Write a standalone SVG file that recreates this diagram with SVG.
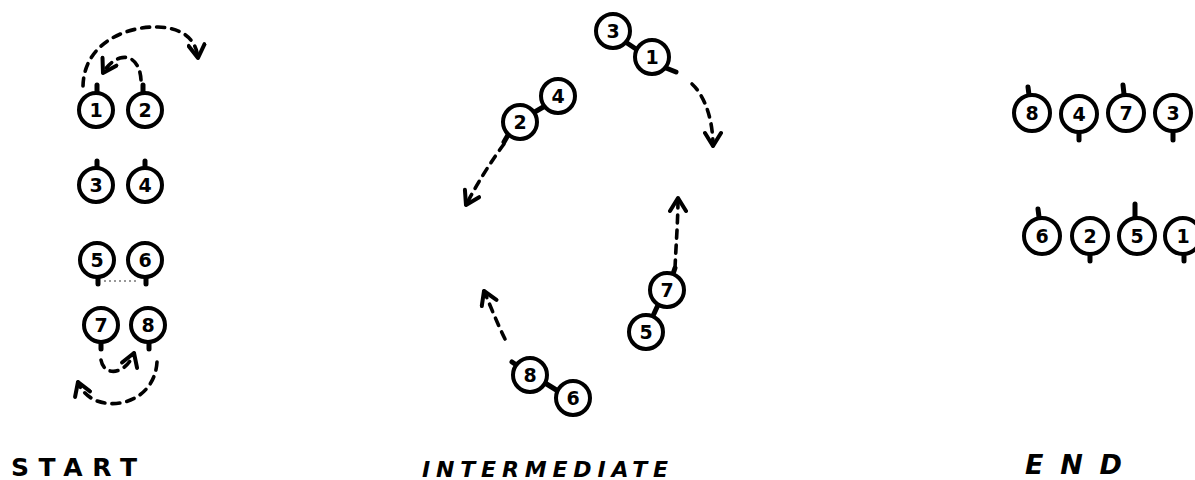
<svg xmlns="http://www.w3.org/2000/svg" width="1195" height="480" viewBox="0 0 1195 480">
<style>
.c{fill:#fff;stroke:#000;stroke-width:4}
.d{font-family:"DejaVu Sans",sans-serif;font-weight:bold;font-size:19px;text-anchor:middle;fill:#000}
.n{stroke:#000;stroke-width:5;stroke-linecap:round;fill:none}
.dash{fill:none;stroke:#000;stroke-width:3.6;stroke-dasharray:8 7;stroke-linecap:round;marker-end:url(#ah)}
.lbl{font-family:"DejaVu Sans",sans-serif;font-weight:bold;fill:#000}
</style>
<defs>
<marker id="ah" viewBox="0 0 20 20" refX="16" refY="10" markerWidth="20" markerHeight="20" markerUnits="userSpaceOnUse" orient="auto">
<path d="M3,2 L16,10 L3,18" fill="none" stroke="#000" stroke-width="4" stroke-linecap="round" stroke-linejoin="round"/>
</marker>
</defs>
<rect width="1195" height="480" fill="#fff"/>

<g id="connectors">
<path class="dash" d="M83,86 C84,42 128,26 158,27 C184,28 196,40 198,58"/>
<path class="dash" d="M141,80 C140,62 130,55 120,58 C112,61 107,66 103,73"/>
<path class="dash" d="M101,360 C104,377 126,375 134,353"/>
<path class="dash" d="M157,362 C155,396 122,410 97,401 C87,397 81,390 78,382"/>
<path class="dash" d="M504,144 C492,160 478,182 466,205"/>
<path class="dash" d="M692,84 C705,96 713,120 713,146"/>
<path class="dash" d="M675,268 C676,245 678,220 678,198"/>
<path class="dash" d="M505,339 C498,325 490,305 484,291"/>
<path d="M104,281 L138,281" stroke="#777" stroke-width="1.3" stroke-dasharray="2 3" fill="none"/>
</g>

<g id="start-1"><path class="n" d="M97,85 L97,91"/><circle class="c" cx="96" cy="110" r="17"/><text class="d" x="96" y="117">1</text></g>
<g id="start-2"><path class="n" d="M143,85 L143,91"/><circle class="c" cx="145" cy="110" r="17"/><text class="d" x="145" y="117">2</text></g>
<g id="start-3"><path class="n" d="M97,161 L97,167"/><circle class="c" cx="96" cy="185" r="17"/><text class="d" x="96" y="192">3</text></g>
<g id="start-4"><path class="n" d="M145,161 L145,167"/><circle class="c" cx="145" cy="185" r="17"/><text class="d" x="145" y="192">4</text></g>
<g id="start-5"><path class="n" d="M98,278 L98,284"/><circle class="c" cx="97" cy="260" r="17"/><text class="d" x="97" y="267">5</text></g>
<g id="start-6"><path class="n" d="M146,278 L146,284"/><circle class="c" cx="145" cy="260" r="17"/><text class="d" x="145" y="267">6</text></g>
<g id="start-7"><path class="n" d="M101,343 L101,349"/><circle class="c" cx="101" cy="325" r="17"/><text class="d" x="101" y="332">7</text></g>
<g id="start-8"><path class="n" d="M149,343 L149,349"/><circle class="c" cx="148" cy="325" r="17"/><text class="d" x="148" y="332">8</text></g>

<g id="mid-3-1">
<path class="n" d="M627,43 L639,51"/>
<path class="n" d="M666,68 L676,72"/>
<circle class="c" cx="613" cy="31" r="17"/><text class="d" x="613" y="38">3</text>
<circle class="c" cx="652" cy="57" r="17"/><text class="d" x="652" y="64">1</text>
</g>
<g id="mid-2-4">
<path class="n" d="M533,113 L545,106"/>
<path class="n" d="M508,135 L504,142"/>
<circle class="c" cx="520" cy="122" r="17"/><text class="d" x="520" y="129">2</text>
<circle class="c" cx="558" cy="96" r="17"/><text class="d" x="558" y="103">4</text>
</g>
<g id="mid-7-5">
<path class="n" d="M673,274 L675,268"/>
<path class="n" d="M652,318 L658,305"/>
<circle class="c" cx="667" cy="290" r="17"/><text class="d" x="667" y="297">7</text>
<circle class="c" cx="646" cy="332" r="17"/><text class="d" x="646" y="339">5</text>
</g>
<g id="mid-8-6">
<path class="n" d="M518,366 L512,362"/>
<path class="n" d="M545,383 L558,391"/>
<circle class="c" cx="530" cy="375" r="17"/><text class="d" x="530" y="382">8</text>
<circle class="c" cx="573" cy="398" r="17"/><text class="d" x="573" y="405">6</text>
</g>

<g id="end-8"><path class="n" d="M1028,87 L1029,95"/><circle class="c" cx="1032" cy="113" r="18"/><text class="d" x="1032" y="120">8</text></g>
<g id="end-4"><path class="n" d="M1079,132 L1079,140"/><circle class="c" cx="1079" cy="114" r="18"/><text class="d" x="1079" y="121">4</text></g>
<g id="end-7"><path class="n" d="M1123,85 L1124,94"/><circle class="c" cx="1126" cy="113" r="18"/><text class="d" x="1126" y="120">7</text></g>
<g id="end-3"><path class="n" d="M1173,132 L1173,140"/><circle class="c" cx="1173" cy="113" r="18"/><text class="d" x="1173" y="120">3</text></g>
<g id="end-6"><path class="n" d="M1038,209 L1039,217"/><circle class="c" cx="1042" cy="236" r="18"/><text class="d" x="1042" y="243">6</text></g>
<g id="end-2"><path class="n" d="M1090,255 L1090,261"/><circle class="c" cx="1090" cy="236" r="18"/><text class="d" x="1090" y="243">2</text></g>
<g id="end-5"><path class="n" d="M1135,204 L1135,217"/><circle class="c" cx="1137" cy="236" r="18"/><text class="d" x="1137" y="243">5</text></g>
<g id="end-1"><path class="n" d="M1184,255 L1184,261"/><circle class="c" cx="1183" cy="236" r="18"/><text class="d" x="1183" y="243">1</text></g>

<g id="labels">
<text class="lbl" x="11" y="476" font-size="25" textLength="126" lengthAdjust="spacing">START</text>
<text class="lbl" x="422" y="477" font-size="22" font-style="italic" textLength="246" lengthAdjust="spacing">INTERMEDIATE</text>
<text class="lbl" x="1025" y="474" font-size="27" font-style="italic" textLength="97" lengthAdjust="spacing">END</text>
</g>
</svg>
